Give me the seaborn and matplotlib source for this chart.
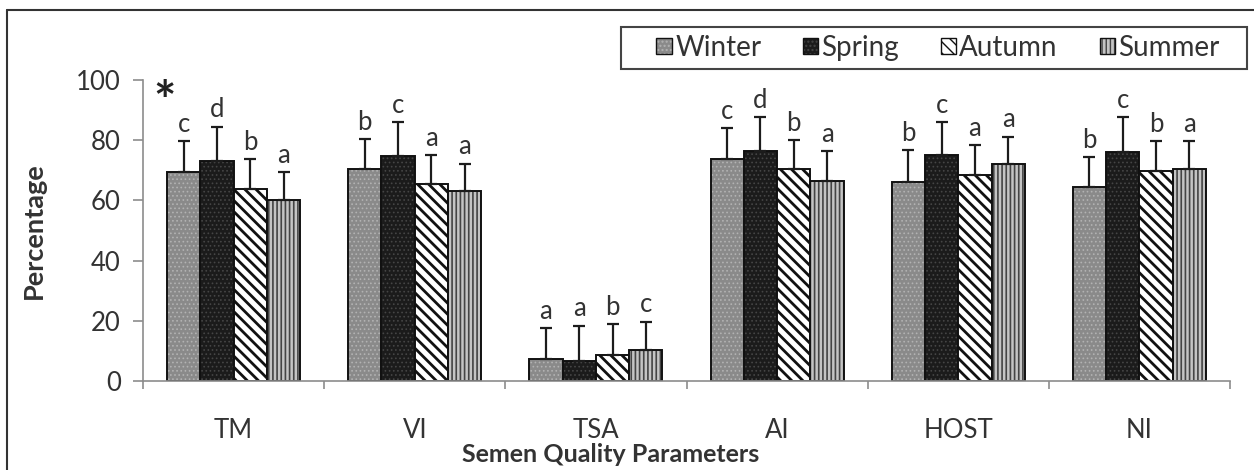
import numpy as np
import pandas as pd
import matplotlib
matplotlib.use("Agg")
import matplotlib.pyplot as plt
import seaborn as sns
from matplotlib.patches import Patch, Rectangle
from matplotlib.lines import Line2D
from matplotlib.colors import to_rgba

# ---- data -------------------------------------------------------------
parameters = ["TM", "VI", "TSA", "AI", "HOST", "NI"]
seasons = ["Winter", "Spring", "Autumn", "Summer"]

winter_mean = [69.4, 70.3, 7.3, 73.8, 66.2, 64.6]
spring_mean = [73.1, 74.9, 6.6, 76.5, 75.1, 76.0]
autumn_mean = [63.7, 65.4, 8.6, 70.3, 68.4, 69.8]
summer_mean = [60.0, 63.1, 10.3, 66.5, 72.0, 70.3]

winter_sd = [10.4, 10.1, 10.4, 10.1, 10.5, 9.9]
spring_sd = [11.4, 11.0, 11.8, 11.3, 11.0, 11.6]
autumn_sd = [10.0, 9.7, 10.2, 9.8, 10.0, 10.0]
summer_sd = [9.3, 9.1, 9.4, 10.0, 9.2, 9.5]

winter_letters = ["c", "b", "a", "c", "b", "b"]
spring_letters = ["d", "c", "a", "d", "c", "c"]
autumn_letters = ["b", "a", "b", "b", "a", "b"]
summer_letters = ["a", "a", "c", "a", "a", "a"]

y_ticks = [0, 20, 40, 60, 80, 100]

means = [winter_mean, spring_mean, autumn_mean, summer_mean]
sds = [winter_sd, spring_sd, autumn_sd, summer_sd]
letters = [winter_letters, spring_letters, autumn_letters, summer_letters]

df = pd.DataFrame({
    "parameter": parameters * len(seasons),
    "season": [s for s in seasons for _ in parameters],
    "mean": [v for m in means for v in m],
})

# ---- style ------------------------------------------------------------
sns.set_theme(style="ticks")
plt.rcParams["font.family"] = ["Lato", "DejaVu Sans"]
plt.rcParams["hatch.linewidth"] = 1.0

TEXT = "#333333"
AXIS = "#8c8c8c"

fill_style = {
    "Winter": dict(face="#8a8a8a", hatch="....", hcolor="#b2b2b2", hlw=0.7),
    "Spring": dict(face="#1b1b1b", hatch="....", hcolor="#454545", hlw=0.7),
    "Autumn": dict(face="#ffffff", hatch="\\\\\\", hcolor="#111111", hlw=2.0),
    "Summer": dict(face="#c4c4c4", hatch="||||", hcolor="#444444", hlw=1.2),
}


def apply_fill(patch, st):
    patch.set_hatch(st["hatch"])
    patch._hatch_color = to_rgba(st["hcolor"])
    if hasattr(patch, "set_hatch_linewidth"):
        patch.set_hatch_linewidth(st["hlw"])
    elif hasattr(patch, "_hatch_linewidth"):
        patch._hatch_linewidth = st["hlw"]


W, H = 1254, 470
fig = plt.figure(figsize=(W / 100, H / 100), dpi=100)
ax = fig.add_axes([143 / W, (H - 381) / H, (1230 - 143) / W, (381 - 80) / H])

sns.barplot(
    data=df, x="parameter", y="mean", hue="season",
    order=parameters, hue_order=seasons,
    palette=[fill_style[s]["face"] for s in seasons], saturation=1,
    width=0.735, errorbar=None, edgecolor="#111111", linewidth=1.4,
    legend=False, ax=ax,
)

# hatches, one-sided error bars and significance letters
for container, season, m, sd, lt in zip(ax.containers, seasons, means, sds, letters):
    st = fill_style[season]
    xs = []
    for bar in container:
        apply_fill(bar, st)
        xs.append(bar.get_x() + bar.get_width() / 2)
    ax.errorbar(xs, m, yerr=[np.zeros(len(sd)), sd], fmt="none",
                ecolor="#1c1c1c", elinewidth=1.6, capsize=4.3, capthick=1.6,
                zorder=3)
    for x, v, e, t in zip(xs, m, sd, lt):
        ax.text(x, v + e + 1.4, t, ha="center", va="bottom",
                fontsize=18.5, color=TEXT)

ax.text(-0.38, 100, "*", ha="center", va="top", fontsize=38,
        fontweight="bold", color="#222222")

# ---- axes -------------------------------------------------------------
ax.set_xlim(-0.5, 5.5)
ax.set_ylim(0, 100)
ax.set_yticks(y_ticks)
ax.set_xticks(range(len(parameters)))
ax.set_xticklabels(parameters)
ax.set_xticks(np.arange(-0.5, len(parameters), 1.0), minor=True)

ax.tick_params(axis="y", length=7, width=1.2, color=AXIS, labelsize=18.5,
               labelcolor=TEXT, pad=9)
ax.tick_params(axis="x", which="major", length=0, labelsize=18.5,
               labelcolor=TEXT, pad=27)
ax.tick_params(axis="x", which="minor", length=6, width=1.2, color=AXIS)

for side in ("top", "right"):
    ax.spines[side].set_visible(False)
for side in ("left", "bottom"):
    ax.spines[side].set_color(AXIS)
    ax.spines[side].set_linewidth(1.2)

ax.set_ylabel("Percentage", fontsize=19.5, fontweight="bold", color=TEXT)
ax.yaxis.set_label_coords(-0.089, 0.5)
ax.set_xlabel("Semen Quality Parameters", fontsize=18, fontweight="bold",
              color=TEXT)
ax.xaxis.set_label_coords(0.4305, -0.205)

# ---- legend -----------------------------------------------------------
handles = []
for s in seasons:
    st = fill_style[s]
    h = Patch(facecolor=st["face"], edgecolor="#111111", linewidth=1.0)
    apply_fill(h, st)
    handles.append(h)

fig.legend(handles, seasons, loc="center",
           bbox_to_anchor=(938 / W, 1 - 48 / H), ncol=4, frameon=False,
           fontsize=20, handlelength=0.55, handleheight=0.5,
           handletextpad=0.12, columnspacing=1.5, borderpad=0,
           labelcolor=TEXT)
fig.add_artist(Rectangle((621 / W, 1 - 69 / H), (1247 - 621) / W, 42 / H,
                         transform=fig.transFigure, fill=False,
                         edgecolor="#444444", linewidth=1.5))

# outer frame lines
fig.add_artist(Line2D([7 / W, 1.0], [1 - 10 / H, 1 - 10 / H],
                      transform=fig.transFigure, color="#333333", lw=1.5))
fig.add_artist(Line2D([7 / W, 7 / W], [0.0, 1 - 10 / H],
                      transform=fig.transFigure, color="#333333", lw=1.5))

fig.savefig("out.png", dpi=100)
